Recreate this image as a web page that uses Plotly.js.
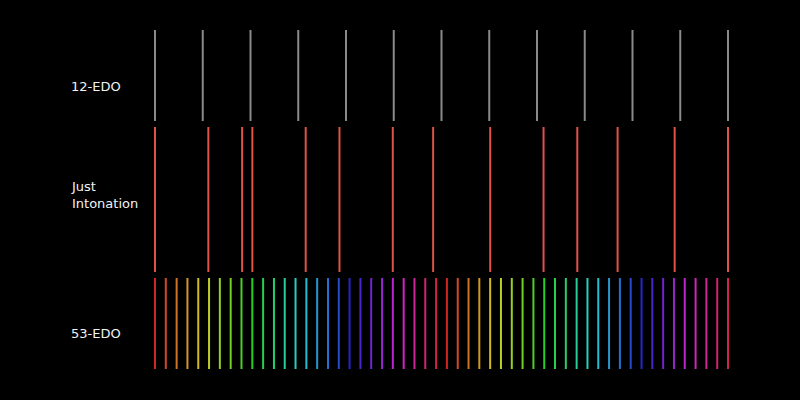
<!DOCTYPE html>
<html>
<head>
<meta charset="utf-8">
<script src="https://cdn.plot.ly/plotly-3.0.1.min.js"></script>
<style>
  html, body { margin: 0; padding: 0; background: #000; }
  #chart { width: 800px; height: 400px; }
</style>
</head>
<body>
<div id="chart"></div>
<script>
// ---- data (cents) ----
const rowLabels = ['12-EDO', 'Just<br>Intonation', '53-EDO'];
const edo12Cents = [0, 100, 200, 300, 400, 500, 600, 700, 800, 900, 1000, 1100, 1200];
const justCents = [0, 111.7, 182.4, 203.9, 315.6, 386.3, 498.0, 582.5, 702.0, 813.7, 884.4, 968.8, 1088.3, 1200];
const edo53Cents = [0, 22.6, 45.3, 67.9, 90.6, 113.2, 135.8, 158.5, 181.1, 203.8, 226.4, 249.1, 271.7,
  294.3, 317.0, 339.6, 362.3, 384.9, 407.5, 430.2, 452.8, 475.5, 498.1, 520.8, 543.4, 566.0, 588.7,
  611.3, 634.0, 656.6, 679.2, 701.9, 724.5, 747.2, 769.8, 792.5, 815.1, 837.7, 860.4, 883.0, 905.7,
  928.3, 950.9, 973.6, 996.2, 1018.9, 1041.5, 1064.2, 1086.8, 1109.4, 1132.1, 1154.7, 1177.4, 1200];

// ---- layout / style constants ----
const W = 800, H = 400;
const x0px = 155, pxPerCent = (728 - 155) / 1200;
const xRange = [-x0px / pxPerCent, (W - x0px) / pxPerCent];
const bands = { edo12: [30, 121], just: [127, 272], edo53: [278, 369] };
const labelY = [86, 195, 333];
const labelX = 69 / W;
const grey = 'rgb(138,138,138)';
const red = 'rgb(222,82,72)';

function segs(vals, band) {
  const xs = [], ys = [];
  vals.forEach(v => { xs.push(v, v, null); ys.push(band[0], band[1], null); });
  return { x: xs, y: ys };
}

const traces = [];
const s12 = segs(edo12Cents, bands.edo12);
traces.push({ type: 'scatter', mode: 'lines', x: s12.x, y: s12.y,
  line: { color: grey, width: 2 }, hoverinfo: 'skip', showlegend: false });
const sJ = segs(justCents, bands.just);
traces.push({ type: 'scatter', mode: 'lines', x: sJ.x, y: sJ.y,
  line: { color: red, width: 2 }, hoverinfo: 'skip', showlegend: false });
const n53 = edo53Cents.length;
edo53Cents.forEach((v, i) => {
  const hue = (i * 720 / n53) % 360;
  traces.push({ type: 'scatter', mode: 'lines', x: [v, v], y: bands.edo53,
    line: { color: `hsl(${hue.toFixed(1)},70%,48%)`, width: 2 }, hoverinfo: 'skip', showlegend: false });
});

const annotations = rowLabels.map((t, i) => ({
  text: t, xref: 'paper', yref: 'y', x: labelX, y: labelY[i],
  xanchor: 'left', yanchor: 'middle', align: 'left', showarrow: false,
  font: { family: 'DejaVu Sans, sans-serif', size: 13, color: '#f2f2f2' }
}));

const layout = {
  width: W, height: H,
  margin: { l: 0, r: 0, t: 0, b: 0 },
  paper_bgcolor: '#000', plot_bgcolor: '#000',
  xaxis: { range: xRange, visible: false, fixedrange: true },
  yaxis: { range: [H, 0], visible: false, fixedrange: true },
  annotations: annotations,
  showlegend: false
};

Plotly.newPlot('chart', traces, layout, { displayModeBar: false, staticPlot: true });
</script>
</body>
</html>
